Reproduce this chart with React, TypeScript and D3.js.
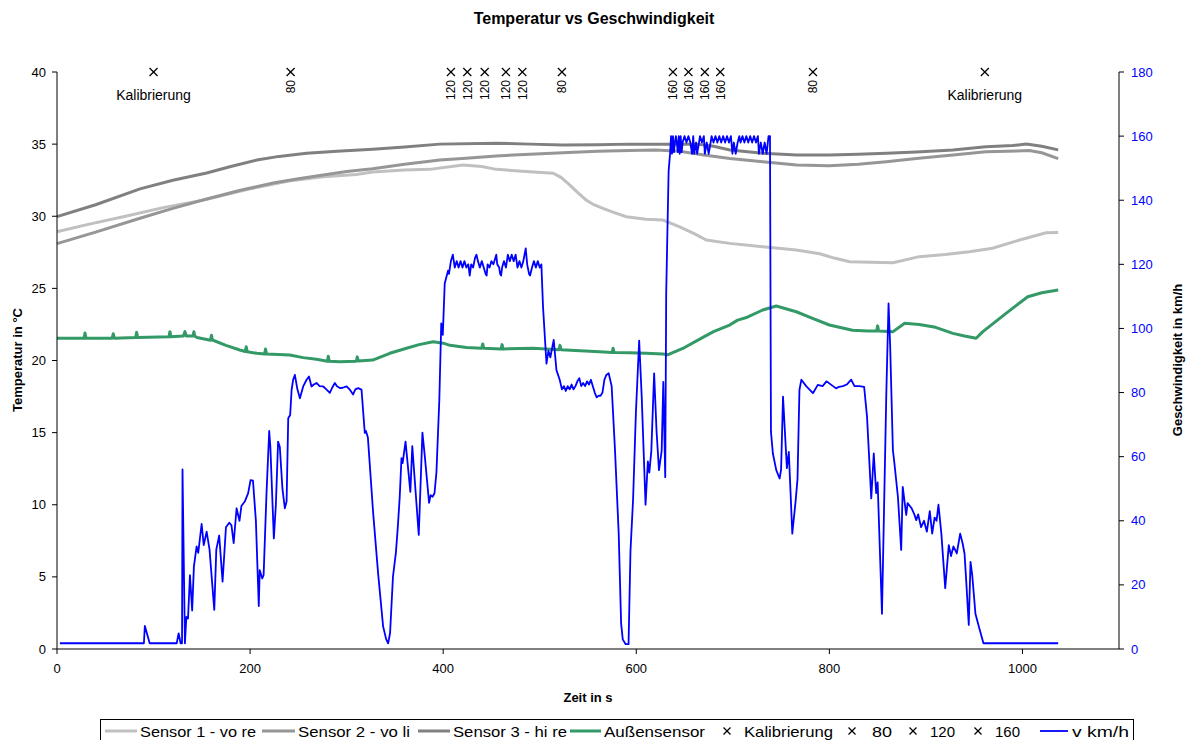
import React from "react";
import * as d3 from "d3";

type P = [number, number];

const sensor1: P[] = [[0,28.93],[30,29.4],[68.6,29.97],[110,30.6],[155,31.17],[200,31.9],[240,32.45],[275.7,32.74],[310,32.9],[327,33.07],[360,33.2],[386,33.25],[420.6,33.55],[440,33.45],[455,33.25],[489.6,33.09],[513.8,32.98],[522,32.7],[531,32.17],[540,31.6],[548,31.13],[556,30.8],[565.5,30.55],[575,30.3],[589.7,29.97],[610,29.8],[627.6,29.74],[645,29.27],[660,28.8],[672.6,28.35],[696.7,28.12],[731,27.89],[765.7,27.66],[790,27.4],[805,27.1],[821,26.85],[866,26.78],[893,27.2],[920,27.35],[945,27.54],[969,27.78],[997,28.35],[1024.5,28.86],[1037,28.88]];

const sensor2: P[] = [[0,28.1],[40,28.9],[86,29.86],[120,30.55],[155,31.2],[190,31.8],[224,32.3],[250,32.6],[275.7,32.86],[300,33.1],[327,33.3],[360,33.6],[396.5,33.9],[420,34.0],[455,34.18],[490,34.3],[524,34.4],[560,34.5],[593,34.55],[620,34.6],[645,34.5],[670,34.25],[697,34.0],[731,33.78],[766,33.55],[800,33.5],[830,33.6],[859,33.78],[890,34.0],[928,34.25],[962,34.47],[1007,34.55],[1020,34.4],[1037,34.0]];

const sensor3: P[] = [[0,29.97],[40,30.8],[86,31.9],[120,32.5],[155,33.0],[180,33.45],[207,33.9],[230,34.15],[258.5,34.36],[290,34.5],[327,34.64],[360,34.8],[396.5,35.0],[455,35.06],[490,35.0],[524,34.94],[560,34.95],[593,35.0],[663,35.0],[680,34.85],[697,34.6],[731,34.36],[766,34.25],[800,34.25],[830,34.3],[859,34.36],[890,34.45],[928,34.59],[962,34.82],[990,34.9],[1004,35.0],[1020,34.85],[1037,34.6]];

const aussen: P[] = [[0,21.54],[28,21.54],[29,21.9],[30,21.54],[57,21.54],[58.3,21.85],[59.5,21.54],[81.5,21.6],[82.5,21.95],[83.5,21.6],[116,21.65],[117,22.0],[118,21.65],[131,21.7],[132.5,22.0],[134,21.7],[141,21.7],[141.8,22.0],[142.6,21.7],[145,21.6],[159,21.4],[160,21.75],[161,21.42],[175,21.05],[189.4,20.73],[195,20.62],[196,20.95],[197,20.6],[207,20.5],[215,20.45],[216,20.8],[217,20.45],[241,20.38],[255,20.2],[268.8,20.08],[280,19.95],[281,20.3],[282,19.95],[293,19.92],[310,19.95],[311,20.25],[312,19.97],[327,20.03],[344.7,20.5],[362,20.85],[375,21.1],[389.6,21.3],[400,21.2],[407,21.05],[424,20.9],[440,20.85],[441,21.15],[442,20.85],[460,20.8],[461,21.1],[462,20.8],[493,20.85],[520,20.75],[521,21.05],[522,20.75],[562,20.6],[575,20.55],[576,20.85],[577,20.55],[593,20.54],[610,20.5],[627.6,20.45],[633,20.4],[650,20.9],[669,21.6],[680,22.0],[696.7,22.46],[705,22.8],[715,23.0],[731,23.5],[745,23.78],[765.7,23.38],[782.6,22.92],[800,22.46],[824,22.1],[840,22.05],[849,22.05],[850,22.4],[851,22.05],[866,22.0],[878,22.58],[893,22.5],[910,22.3],[928,21.88],[940,21.7],[952,21.54],[959,22.0],[983,23.27],[1005.5,24.42],[1020,24.7],[1037,24.88]];

const speed: P[] = [[3,1.8],[90,1.8],[91,7.2],[96,1.8],[124,1.8],[126,4.9],[128,1.8],[129.5,1.8],[130,56],[132.5,1.8],[134,10],[135.7,9.5],[137.7,23],[140,12],[141.8,25.7],[144.6,32],[146.3,30],[149.8,39],[152,32.4],[155,36.6],[158,31],[162.9,12.2],[165,31],[168,35.4],[171.5,21],[175,38],[178.4,39.4],[180.7,38.6],[183,33],[186,43.9],[189,40],[191,44.6],[194.5,46],[198,48.6],[200.5,52.7],[203,52.5],[206,40],[209,13.4],[210,24.6],[212.6,22],[214,23],[217,48.6],[219.8,68],[221,63],[224.6,34.5],[226.7,45],[229,64.7],[230.8,63],[233.5,50],[236,43.9],[237.8,46],[239.5,72],[241.5,73],[243,80.8],[244.6,84],[246.4,85.5],[249,81],[251.6,78.2],[255,81.9],[258.5,84],[261,85],[263.6,81.9],[266,82.5],[268.8,83],[272,82],[275.7,81.9],[279,81],[282.6,79.9],[285,81.5],[287.8,83],[290,82],[293,81.4],[296,81.5],[300,81.9],[303,81],[306.7,79.4],[309,81],[311.9,81.4],[315.4,80.9],[318.8,67.4],[320,68],[322,66],[327.5,42.3],[332.6,23.6],[337.8,7],[341,3],[343,1.8],[345,5],[348,22.6],[351,30],[353,38],[355,47.5],[356.8,59.5],[358,58],[361,64.7],[366,49],[368,63.3],[370,55],[374.7,35.6],[378.5,67.5],[381,60],[385.4,45.6],[387,48],[389,47.5],[391,48.6],[393,55],[396,77.7],[398,101.6],[399.6,98],[401.6,114],[405,118],[406,117],[408,121],[410,123],[412,119],[414,121],[416,119],[418,121],[420,119],[422,121],[424,119],[426,120],[427.5,116.5],[429,120],[431,119],[433,122],[434.5,123],[436,121],[438,119],[440,121],[442,119],[444,117],[445,116.5],[446,120],[448,119],[450,121],[452,120],[454,122],[455,123],[456,120],[458,119],[459,117],[460,116.5],[461,119],[463,121],[465,119],[467,123],[469,121],[471,123],[473,121],[475,123],[477,119],[479,121],[481,119],[483,121],[485.5,125],[487,120],[489,117],[490,116.5],[492,119],[494,121],[496,119],[498,121],[500,119],[501.7,120],[503.4,106.8],[507,89],[509,93],[511,91],[514.5,96.4],[517.3,87],[520.7,84],[523,81],[525,82],[527,80.5],[529,82],[531,81],[533,82.5],[535,81],[537,82],[539,83.5],[541,84.5],[543,82],[545,83],[547,82],[549,83.5],[551,82.5],[553,84],[555,82],[557,80],[559,78.5],[561,79],[563,79],[565,80],[567,84],[569,85.5],[571.4,86],[574.5,82],[578,61.8],[581.8,36],[584.3,8],[586,3],[589,1.5],[592,1.5],[594,30.6],[596.7,46.7],[599.6,73.6],[603,96.2],[605.6,79],[609.6,45],[612,58.5],[613.5,55],[615.6,61.8],[618.5,86],[621,68],[623.5,55.8],[626.3,61.8],[628,83.3],[630,53.6],[631,111],[633.5,149],[635,154.5],[636,160],[637,154.5],[638,160],[639,155],[640,158],[641,160],[642,158],[643,155],[644,160],[645,154.5],[646,160],[647,155],[648,158],[650,160],[652,158],[654,160],[656,158],[657.8,154.5],[659,160],[660,154.5],[662,158],[663,154.5],[665,158],[666,160],[668,158],[670,160],[671,154.5],[673,158],[675,154.5],[677,158],[678,160],[680,158],[682,160],[684,158],[686,160],[688,158],[690,160],[692,158],[694,160],[696,158],[698,160],[699.6,154.5],[701,158],[703,154.5],[705,158],[706.7,160],[708,158],[710,160],[712,158],[714,160],[716,158],[718,160],[720,158],[722,160],[724,158],[726,160],[727,154.5],[729,158],[731,154.5],[733,158],[735,154.5],[737,160],[738.5,160],[739.5,67.8],[741.5,61],[745,55.8],[748.5,53.2],[750,56],[752,78.7],[756,56.4],[758,61.5],[761.6,36],[765,46],[767,53],[769,80.8],[771,84],[776,82],[783,79.8],[788,82.4],[793,82],[797,83.5],[802,82.4],[807,81.3],[810,81.8],[814,82],[818,82.5],[822.6,84],[826,82],[831,82],[836,81.8],[839,72.5],[843.4,47],[846,61],[848.5,48.6],[850,52],[854.5,11],[859,79.8],[861.3,107.8],[863,94.3],[865.8,62],[867,59],[871,47.5],[874.4,30.9],[876,50.6],[879.6,41.8],[881,45.5],[885,44],[888,42],[890,40.2],[892,42],[895,38],[898,40],[901,36.6],[904,43],[906.5,36],[909,41],[911,40],[913,45],[916,36],[920,19],[923.7,32.4],[926,29],[928.5,32],[932,29.8],[935.5,36],[938,33],[940,29.8],[941.7,21.5],[944.4,7.5],[946.2,27.2],[948,23],[951.3,11],[954.8,7],[959.6,1.8],[1037,1.8]];

const kalibrierungTimes = [100, 961];
const m80Times = [242, 523, 783];
const m120Times = [408, 425, 443, 465, 482];
const m160Times = [638, 654, 671, 687];
const markerTemp = 40;

const xTicks = [0, 200, 400, 600, 800, 1000];
const yTicks = [0, 5, 10, 15, 20, 25, 30, 35, 40];
const vTicks = [0, 20, 40, 60, 80, 100, 120, 140, 160, 180];

const FONT = "Arial, 'Liberation Sans', sans-serif";

const Cross = ({ x, y, s = 4 }: { x: number; y: number; s?: number }) => (
  <g stroke="#000" strokeWidth={1.2}>
    <line x1={x - s} y1={y - s} x2={x + s} y2={y + s} />
    <line x1={x - s} y1={y + s} x2={x + s} y2={y - s} />
  </g>
);

const LegendText = ({ x, w, children }: { x: number; w: number; children: string }) => (
  <text x={x} y={737} fontSize={15} textLength={w} lengthAdjust="spacingAndGlyphs">{children}</text>
);

export default function App() {
  const x = d3.scaleLinear().domain([0, 1100]).range([57, 1119]);
  const yT = d3.scaleLinear().domain([0, 40]).range([649, 72]);
  const yV = d3.scaleLinear().domain([0, 180]).range([649, 72]);
  const lineT = d3.line<P>().x((d) => x(d[0])).y((d) => yT(d[1]));
  const lineV = d3.line<P>().x((d) => x(d[0])).y((d) => yV(d[1]));

  const numLabels: { t: number; label: string }[] = [
    ...m80Times.map((t) => ({ t, label: "80" })),
    ...m120Times.map((t) => ({ t, label: "120" })),
    ...m160Times.map((t) => ({ t, label: "160" })),
  ];

  const legendY = 731;
  return (
    <svg width={1188} height={740} style={{ position: "fixed", left: 0, top: 0, background: "#fff" }} fontFamily={FONT}>
      <rect x={0} y={0} width={1188} height={740} fill="#fff" />
      <text x={594} y={24} textAnchor="middle" fontSize={16} fontWeight="bold">Temperatur vs Geschwindigkeit</text>

      {/* series */}
      <path d={lineT(sensor1) || ""} fill="none" stroke="#c0c0c0" strokeWidth={3} />
      <path d={lineT(sensor2) || ""} fill="none" stroke="#969696" strokeWidth={3} />
      <path d={lineT(sensor3) || ""} fill="none" stroke="#808080" strokeWidth={3} />
      <path d={lineT(aussen) || ""} fill="none" stroke="#339966" strokeWidth={3} strokeLinejoin="round" />
      <path d={lineV(speed) || ""} fill="none" stroke="#0000ff" strokeWidth={1.8} strokeLinejoin="round" />

      {/* markers */}
      {kalibrierungTimes.map((t, i) => (
        <g key={"k" + i}>
          <Cross x={x(t)} y={yT(markerTemp)} />
          <text x={x(t)} y={100} textAnchor="middle" fontSize={14}>Kalibrierung</text>
        </g>
      ))}
      {numLabels.map((m, i) => (
        <g key={"m" + i}>
          <Cross x={x(m.t)} y={yT(markerTemp)} />
          <text transform={`translate(${x(m.t) + 4.5},80) rotate(-90)`} textAnchor="end" fontSize={12}>{m.label}</text>
        </g>
      ))}

      {/* left axis */}
      <line x1={57} y1={yT(0)} x2={57} y2={yT(40)} stroke="#000" />
      {yTicks.map((v) => (
        <g key={"yt" + v}>
          <line x1={52} x2={57} y1={yT(v)} y2={yT(v)} stroke="#000" />
          <text x={46} y={yT(v) + 4.5} textAnchor="end" fontSize={13}>{v}</text>
        </g>
      ))}
      {/* right axis */}
      <line x1={1119} y1={yV(0)} x2={1119} y2={yV(180)} stroke="#000" />
      {vTicks.map((v) => (
        <g key={"vt" + v}>
          <line x1={1119} x2={1124} y1={yV(v)} y2={yV(v)} stroke="#000" />
          <text x={1131} y={yV(v) + 4.5} textAnchor="start" fontSize={13} fill="#0000ff">{v}</text>
        </g>
      ))}
      {/* x axis */}
      <line x1={57} y1={649} x2={1119} y2={649} stroke="#000" />
      {xTicks.map((v) => (
        <g key={"xt" + v}>
          <line x1={x(v)} x2={x(v)} y1={649} y2={654} stroke="#000" />
          <text x={x(v)} y={673} textAnchor="middle" fontSize={13}>{v}</text>
        </g>
      ))}

      <text x={588} y={702} textAnchor="middle" fontSize={13} fontWeight="bold">Zeit in s</text>
      <text transform="translate(22,360) rotate(-90)" textAnchor="middle" fontSize={13} fontWeight="bold">Temperatur in °C</text>
      <text transform="translate(1182,360) rotate(-90)" textAnchor="middle" fontSize={13} fontWeight="bold">Geschwindigkeit in km/h</text>

      {/* legend */}
      <rect x={100.5} y={719.5} width={1033} height={30} fill="none" stroke="#000" />
      <line x1={105} x2={137} y1={legendY} y2={legendY} stroke="#c0c0c0" strokeWidth={3} />
      <LegendText x={140} w={116}>Sensor 1 - vo re</LegendText>
      <line x1={262} x2={295} y1={legendY} y2={legendY} stroke="#969696" strokeWidth={3} />
      <LegendText x={298} w={112}>Sensor 2 - vo li</LegendText>
      <line x1={418} x2={450} y1={legendY} y2={legendY} stroke="#808080" strokeWidth={3} />
      <LegendText x={453} w={114}>Sensor 3 -  hi re</LegendText>
      <line x1={570} x2={601} y1={legendY} y2={legendY} stroke="#339966" strokeWidth={3} />
      <LegendText x={604} w={101}>Außensensor</LegendText>
      <Cross x={727} y={legendY} s={3.5} />
      <LegendText x={744} w={89}>Kalibrierung</LegendText>
      <Cross x={852} y={legendY} s={3.5} />
      <LegendText x={872} w={20}>80</LegendText>
      <Cross x={913} y={legendY} s={3.5} />
      <LegendText x={930} w={25}>120</LegendText>
      <Cross x={978} y={legendY} s={3.5} />
      <LegendText x={995} w={25}>160</LegendText>
      <line x1={1040} x2={1068} y1={legendY} y2={legendY} stroke="#0000ff" strokeWidth={1.8} />
      <LegendText x={1072} w={57}>v km/h</LegendText>
    </svg>
  );
}
